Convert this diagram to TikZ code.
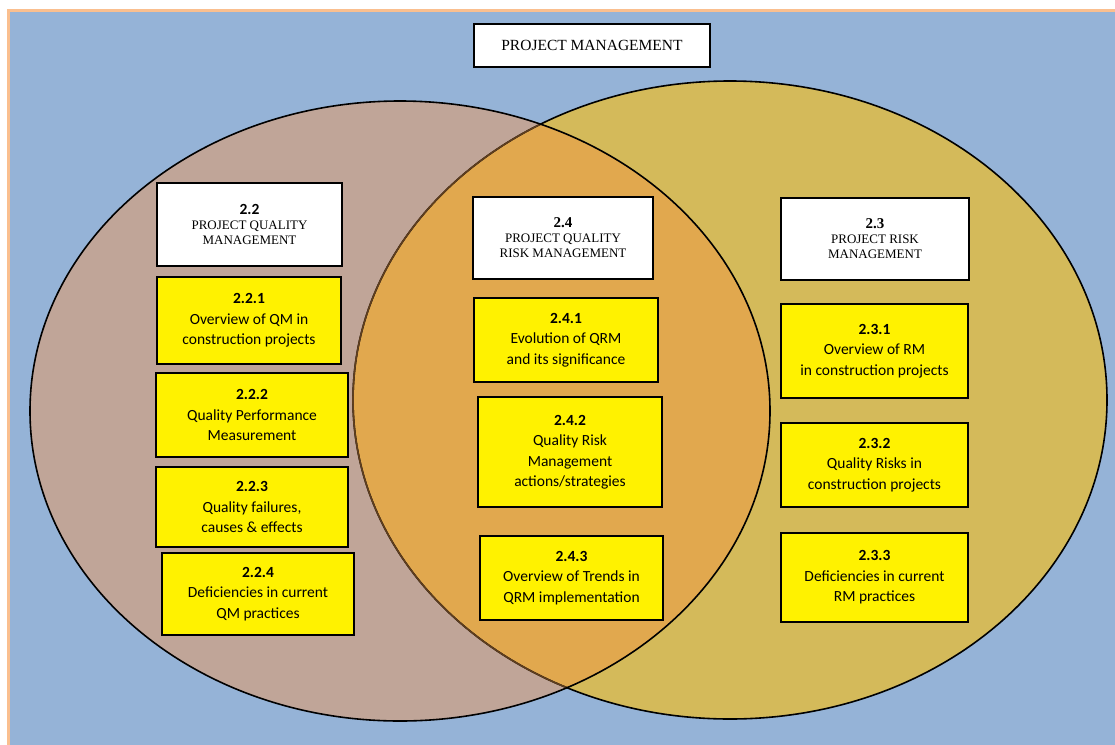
\documentclass[tikz,border=0pt]{standalone}
\usepackage{fontspec}
\setmainfont{Liberation Serif}
\newfontfamily\calib{Carlito}
\definecolor{pagebg}{RGB}{149,179,215}
\definecolor{pageframe}{RGB}{250,191,143}
\definecolor{qmfill}{RGB}{192,165,152}
\definecolor{rmfill}{RGB}{212,186,90}
\definecolor{qrmfill}{RGB}{225,168,78}
\definecolor{hiddenedge}{RGB}{95,62,30}
\tikzset{
  headbox/.style={draw=black, line width=1.8pt, fill=white, inner sep=0pt,
    align=center, font=\fontsize{13}{15}\selectfont},
  topicbox/.style={draw=black, line width=1.6pt, fill=yellow, inner sep=0pt,
    align=center, font=\calib\fontsize{15.5}{20.5}\selectfont},
  venn/.style={line width=1.6pt},
}
\newcommand{\qmellipse}{(400,411) ellipse [x radius=370pt, y radius=310pt]}
\newcommand{\rmellipse}{(730,400) ellipse [x radius=377pt, y radius=319pt]}
\begin{document}
\begin{tikzpicture}[x=1pt, y=-1pt]
\useasboundingbox (0,0) rectangle (1115,744);
\begin{scope}
  \clip (0,0) rectangle (1115,744);
  % page background with its frame
  \filldraw[fill=pagebg, draw=pageframe, line width=3pt] (8.5,10.5) rectangle (1125,760);
  % the two circles of the Venn diagram
  \fill[rmfill] \rmellipse;
  \fill[qmfill] \qmellipse;
  \begin{scope}
    \clip \qmellipse;
    \fill[qrmfill] \rmellipse;
  \end{scope}
  \draw[venn, black] \rmellipse;
  \begin{scope}
    \clip \qmellipse;
    \draw[venn, hiddenedge] \rmellipse;
  \end{scope}
  \draw[venn, black] \qmellipse;
\end{scope}

% title
\node[headbox, line width=1.6pt, minimum width=236pt, minimum height=43pt,
  font=\fontsize{15.5}{18}\selectfont] (pm) at (592,45.5) {PROJECT MANAGEMENT};

% project quality management
\node[headbox, minimum width=185pt, minimum height=83pt] (pqm) at (249.5,224.5)
  {{\calib\bfseries\fontsize{15.5}{18}\selectfont 2.2}\\PROJECT QUALITY\\MANAGEMENT};
\node[topicbox, minimum width=184pt, minimum height=87pt] (t221) at (249,320.5)
  {\textbf{2.2.1}\\Overview of QM in\\construction projects};
\node[topicbox, minimum width=192pt, minimum height=84pt] (t222) at (252,415)
  {\textbf{2.2.2}\\Quality Performance\\Measurement};
\node[topicbox, minimum width=192pt, minimum height=80pt] (t223) at (252,507)
  {\textbf{2.2.3}\\Quality failures,\\causes \& effects};
\node[topicbox, minimum width=192pt, minimum height=82pt] (t224) at (258,594)
  {\textbf{2.2.4}\\Deficiencies in current\\QM practices};

% project quality risk management
\node[headbox, minimum width=180pt, minimum height=82pt] (pqrm) at (563,238)
  {{\bfseries\fontsize{15}{18}\selectfont 2.4}\\PROJECT QUALITY\\RISK MANAGEMENT};
\node[topicbox, minimum width=184pt, minimum height=84pt] (t241) at (566,340)
  {\textbf{2.4.1}\\Evolution of QRM\\and its significance};
\node[topicbox, minimum width=184pt, minimum height=110pt] (t242) at (570,452)
  {\textbf{2.4.2}\\Quality Risk\\Management\\actions/strategies};
\node[topicbox, minimum width=183pt, minimum height=84pt] (t243) at (571.5,578)
  {\textbf{2.4.3}\\Overview of Trends in\\QRM implementation};

% project risk management
\node[headbox, minimum width=188pt, minimum height=82pt] (prm) at (875,239)
  {{\bfseries\fontsize{15}{18}\selectfont 2.3}\\PROJECT RISK\\MANAGEMENT};
\node[topicbox, minimum width=187pt, minimum height=94pt] (t231) at (874.5,351)
  {\textbf{2.3.1}\\Overview of RM\\in construction projects};
\node[topicbox, minimum width=187pt, minimum height=84pt] (t232) at (874.5,465)
  {\textbf{2.3.2}\\Quality Risks in\\construction projects};
\node[topicbox, minimum width=187pt, minimum height=89pt] (t233) at (874.5,577.5)
  {\textbf{2.3.3}\\Deficiencies in current\\RM practices};
\end{tikzpicture}
\end{document}
